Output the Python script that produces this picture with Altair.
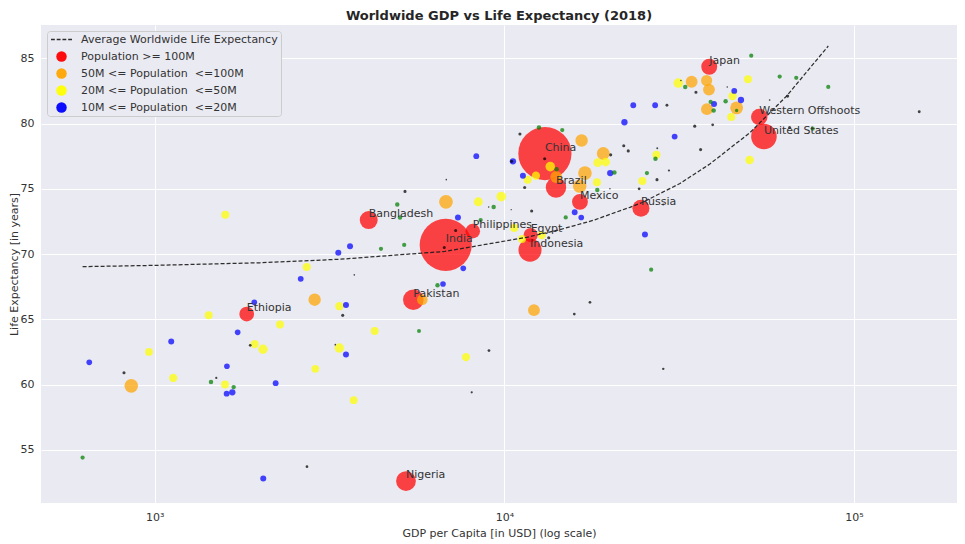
import altair as alt
import pandas as pd

# ---------------- data ----------------
LINE = "Average Worldwide Life Expectancy"
CATS = ["Population >= 100M", "50M <= Population \u00a0<=100M", "20M <= Population \u00a0<=50M",
        "10M <= Population \u00a0<=20M", "5M <= Population \u00a0<=10M", "Population < 5M"]
COLORS = ["#222222", "#ff0000", "#ffa500", "#ffff00", "#0000ff", "#008000", "#000000"]

red_names = ["China", "India", "United States", "Western Offshoots", "Japan", "Russia", "Mexico",
             "Brazil", "Egypt", "Indonesia", "Philippines", "Bangladesh", "Pakistan", "Ethiopia", "Nigeria"]
red_gdp = [13060, 6795, 55250, 53570, 38540, 24580, 16450, 14050, 11890, 11840, 8120, 4093, 5490, 1833, 5232]
red_life = [77.7, 70.7, 79.0, 80.5, 84.35, 73.5, 74.0, 75.1, 71.45, 70.3, 71.75, 72.6, 66.5, 65.4, 52.6]
red_pop = [1415, 1354, 327, 136, 127, 145, 126, 209, 100, 268, 107, 161, 212, 109, 196]

orange_gdp = [6808, 16630, 19180, 14070, 17000, 16420, 12150, 5825, 2867, 857, 34320, 37880, 38470, 37960, 46160]
orange_life = [74.0, 78.7, 77.7, 75.9, 76.2, 75.2, 65.7, 66.5, 66.5, 59.9, 83.2, 83.3, 82.6, 81.1, 81.2]
orange_pop = [95, 77, 84, 70, 93, 90, 70, 57, 77, 93, 70, 62, 70, 70, 83]

yellow_gdp = [1592, 2721, 3373, 1427, 2282, 963, 1932, 2040, 3373, 1130, 1589, 2879, 3707, 4257, 7766,
              8421, 9797, 10670, 11230, 12790, 11660, 12310, 13530, 18490, 19490, 18400, 24800, 27220,
              31430, 49730, 44960, 44540, 50290]
yellow_life = [73.0, 69.0, 66.0, 65.3, 64.6, 62.5, 63.1, 62.7, 62.8, 60.5, 60.0, 61.2, 58.8, 64.1, 62.1,
               74.0, 74.4, 72.0, 71.15, 71.45, 75.7, 76.0, 76.7, 77.0, 77.05, 75.5, 75.6, 77.6,
               83.1, 83.4, 82.1, 80.5, 77.2]
yellow_pop = [32, 32, 34, 32, 32, 30, 34, 44, 44, 34, 32, 30, 30, 32, 34, 40, 46, 32, 32, 34, 32, 34,
              46, 38, 38, 32, 32, 32, 46, 32, 36, 32, 36]

blue_gdp = [3619, 3350, 2616, 3524, 1927, 1727, 1115, 3524, 650, 1609, 1606, 1667, 2218, 2044, 7367,
            6676, 7629, 8312, 10580, 11300, 15890, 16590, 20080, 25240, 22050, 23370, 26990, 30690,
            45440, 47490, 39770]
blue_life = [70.6, 70.1, 68.1, 66.1, 66.3, 64.0, 63.3, 62.3, 61.7, 61.4, 59.3, 59.4, 60.1, 52.8, 72.8,
             67.7, 68.9, 77.5, 77.1, 76.0, 73.2, 72.8, 76.2, 71.5, 80.1, 81.4, 81.4, 79.0, 82.5, 81.8, 81.5]
blue_pop = [18, 18, 17, 18, 16, 16, 18, 18, 16, 16, 17, 20, 17, 18, 18, 16, 16, 17, 20, 18, 17, 16,
            20, 18, 20, 17, 17, 17, 17, 20, 18]

green_gdp = [1449, 1682, 622, 4940, 5029, 4437, 5170, 6439, 5700, 9320, 8555, 12560, 14640, 14110, 20640,
             14980, 18440, 25570, 27050, 26290, 32900, 50820, 61290, 68350, 84390, 42930, 38900, 39680,
             46160, 76140]
green_life = [60.2, 59.8, 54.4, 73.8, 72.8, 70.4, 70.7, 67.6, 64.1, 73.6, 72.6, 79.7, 79.5, 76.5, 76.25,
              72.8, 74.9, 76.2, 77.3, 68.8, 82.8, 85.2, 83.6, 83.5, 82.8, 81.7, 81.65, 81.0, 81.0, 79.6]
green_pop = [10, 10, 9, 10, 10, 9, 9, 10, 8, 10, 9, 10, 9, 10, 10, 9, 10, 9, 10, 9, 10, 9, 9, 9,
             9, 10, 9, 10, 6, 9]

black_gdp = [3722, 3449, 1876, 3285, 817, 1500, 2726, 6822, 5198, 7256, 6732, 11080, 13040, 10490,
             11430, 9020, 10460, 11970, 13390, 21950, 22610, 20140, 27320, 24290, 29560, 27370, 36410,
             35030, 39420, 29170, 35310, 31990, 43390, 64580, 57360, 65430, 153600, 17570, 15850, 9036,
             8065, 28470, 28470, 20040]
black_life = [68.4, 65.3, 63.0, 63.05, 60.9, 60.5, 53.7, 75.7, 74.8, 71.8, 70.5, 79.2, 77.3, 77.1,
              75.1, 73.6, 73.4, 73.3, 71.25, 78.3, 77.9, 77.6, 75.7, 75.0, 76.4, 78.1, 78.0,
              79.8, 79.9, 81.4, 82.4, 83.3, 82.8, 82.1, 81.8, 79.7, 80.9, 66.3, 65.4, 62.6,
              59.4, 61.2, 73.8, 75.0]
black_pop = [1.2, 4.8, 3.8, 1.4, 4.9, 2.5, 3.8, 1.2, 4.9, 4.9, 4.9, 4.8, 4.8, 4.8, 4.8, 1.2, 1.0, 4.9,
             4.8, 4.9, 4.9, 4.9, 4.8, 3.8, 2.5, 1.8, 4.8, 4.8, 3.8, 4.2, 4.9, 1.2, 1.2, 4.9, 1.4, 4.8,
             4.2, 3.8, 3.8, 3.8, 2.5, 3.0, 1.8, 1.2]

avg_gdp = [622, 1000, 2000, 3388, 6761, 11580, 14420, 17950, 22860, 24700, 31770, 38700, 50390, 64120, 74770, 84400]
avg_life = [69.03, 69.13, 69.33, 69.6, 70.2, 71.28, 71.87, 72.58, 73.58, 73.93, 75.4, 76.9, 79.3, 82.1, 84.25, 85.94]

x_ticks = [1000, 10000, 100000]
y_ticks = [55, 60, 65, 70, 75, 80, 85]

# ---------------- tables ----------------
groups = [
    (CATS[0], red_gdp, red_life, red_pop, red_names),
    (CATS[1], orange_gdp, orange_life, orange_pop, None),
    (CATS[2], yellow_gdp, yellow_life, yellow_pop, None),
    (CATS[3], blue_gdp, blue_life, blue_pop, None),
    (CATS[4], green_gdp, green_life, green_pop, None),
    (CATS[5], black_gdp, black_life, black_pop, None),
]
frames = []
for rank, (cat, g, l, p, names) in enumerate(groups):
    frames.append(pd.DataFrame({
        "gdp": g, "life": l, "pop": p, "cat": cat, "rank": rank,
        "name": names if names is not None else [""] * len(g),
    }))
pts = pd.concat(frames, ignore_index=True)
labels = pts[pts["name"] != ""]
avg = pd.DataFrame({"gdp": avg_gdp, "life": avg_life})

# ---------------- encodings ----------------
xscale = alt.Scale(type="log", domain=[473, 197000], nice=False)
yscale = alt.Scale(domain=[50.92, 87.55], nice=False, zero=False)
cscale = alt.Scale(domain=[LINE] + CATS, range=COLORS)

# legend glyph for the dashed line entry: four short filled dashes
DASH = ("M-2,-0.125H-1.273V0.125H-2Z M-0.909,-0.125H-0.182V0.125H-0.909Z "
        "M0.182,-0.125H0.909V0.125H0.182Z M1.273,-0.125H2V0.125H1.273Z")
legend = alt.Legend(
    title=None, orient="top-left", offset=6, values=[LINE] + CATS[:4],
    symbolType=alt.ExprRef(f"datum.value === '{LINE}' ? '{DASH}' : 'circle'"),
    symbolSize=110, symbolStrokeWidth=0, symbolOpacity=0.95,
    labelFont="DejaVu Sans", labelFontSize=11, labelColor="#333333", labelLimit=400,
    labelOffset=14, rowPadding=5, padding=3, symbolOffset=6,
    fillColor="#eaeaf2", strokeColor="#cccccc", cornerRadius=3,
)

xaxis = alt.Axis(values=x_ticks, title="GDP per Capita [in USD] (log scale)",
                 labelExpr="datum.value == 1000 ? '10³' : datum.value == 10000 ? '10⁴' : '10⁵'",
                 labelPadding=8, titlePadding=5)
yaxis = alt.Axis(values=y_ticks, title="Life Expectancy [in years]", labelPadding=7,
                 titleX=-27, titleBaseline="middle")

points = alt.Chart(pts).mark_circle(opacity=0.72, strokeWidth=0).encode(
    x=alt.X("gdp:Q", scale=xscale, axis=xaxis),
    y=alt.Y("life:Q", scale=yscale, axis=yaxis),
    color=alt.Color("cat:N", scale=cscale, legend=legend),
    size=alt.Size("pop:Q", scale=alt.Scale(type="linear", domain=[0, 1000], range=[0, 2000]), legend=None),
    order=alt.Order("rank:Q"),
)

line = alt.Chart(avg).mark_line(strokeDash=[4, 2], strokeWidth=1.25, color="#1a1a1a", opacity=0.9).encode(
    x=alt.X("gdp:Q", scale=xscale),
    y=alt.Y("life:Q", scale=yscale),
)

text = alt.Chart(labels).mark_text(align="left", baseline="alphabetic", dy=-3, fontSize=11,
                                    font="DejaVu Sans", color="#333333").encode(
    x=alt.X("gdp:Q", scale=xscale),
    y=alt.Y("life:Q", scale=yscale),
    text="name:N",
)

chart = alt.layer(points, line, text).properties(
    width=916, height=478,
    title=alt.TitleParams("Worldwide GDP vs Life Expectancy (2018)", font="DejaVu Sans", fontSize=13,
                          fontWeight="bold", color="#262626", offset=7, dy=14.5, baseline="alphabetic"),
    autosize=alt.AutoSizeParams(type="none"),
    padding={"left": 33, "top": 17, "right": 0, "bottom": 41},
    background="#ffffff",
).configure_view(fill="#eaeaf2", strokeWidth=0).configure_axis(
    grid=True, gridColor="#ffffff", gridWidth=1, domain=False, ticks=False, tickSize=0,
    labelFont="DejaVu Sans", labelFontSize=11, labelColor="#333333",
    titleFont="DejaVu Sans", titleFontSize=11, titleFontWeight="normal", titleColor="#333333",
)

chart.save("out.html", embed_options={"renderer": "svg", "actions": False})
